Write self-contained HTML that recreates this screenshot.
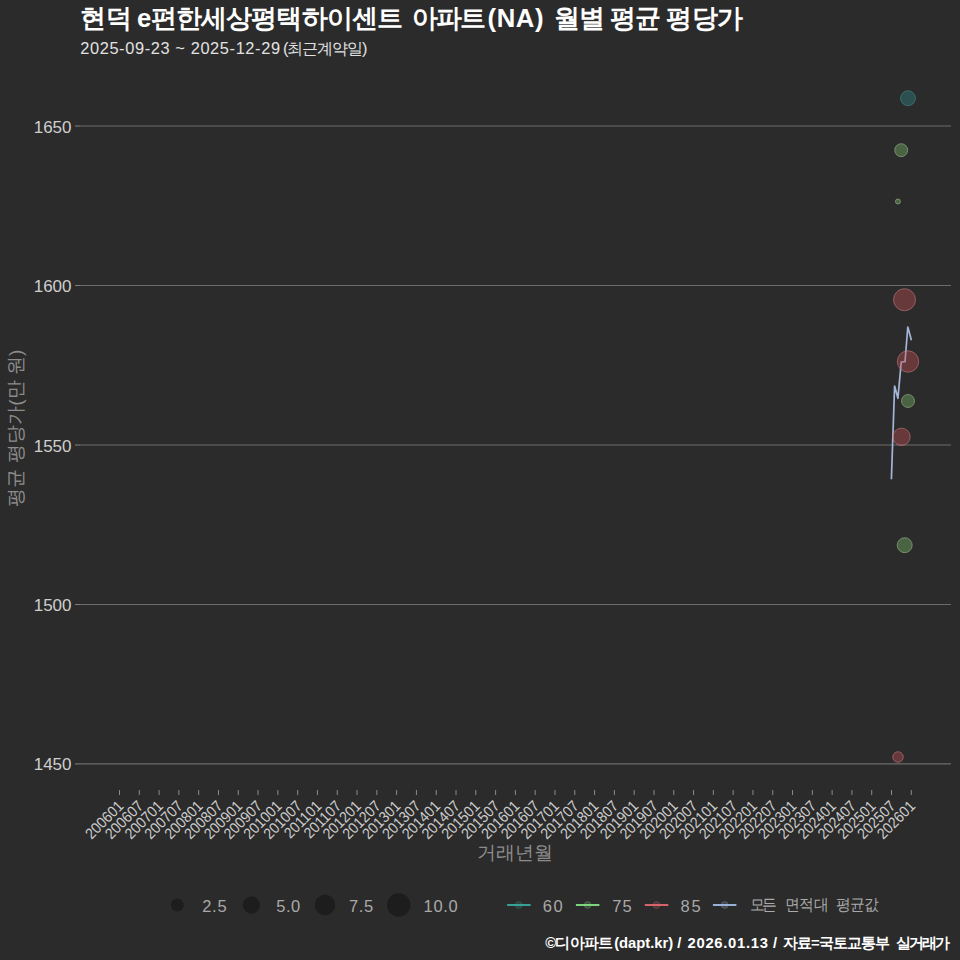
<!DOCTYPE html>
<html><head><meta charset="utf-8"><style>
html,body{margin:0;padding:0;background:#2b2b2b;width:960px;height:960px;overflow:hidden}
svg{display:block}
text{font-family:"Liberation Sans",sans-serif}
.yl{font-size:17px;fill:#cfcfcf}
.xl{font-size:14px;fill:#cccccc}
.at{font-size:19.5px;fill:#8c8c8c}
.lg{font-size:16.5px;fill:#a9a9a9}
.ti{font-size:25.7px;font-weight:bold;fill:#ffffff}
.st{font-size:16.4px;fill:#e2e2e2}
.cap{font-size:14.8px;font-weight:bold;fill:#ffffff}
</style></head><body>
<svg width="960" height="960" viewBox="0 0 960 960">
<rect x="0" y="0" width="960" height="960" fill="#2b2b2b"/>
<line x1="80" x2="951" y1="126" y2="126" stroke="#6c6c6c" stroke-width="1.1"/>
<line x1="75" x2="80" y1="126" y2="126" stroke="#7a7a7a" stroke-width="1.1"/>
<text x="71.5" y="132.5" text-anchor="end" class="yl">1650</text>
<line x1="80" x2="951" y1="285.5" y2="285.5" stroke="#6c6c6c" stroke-width="1.1"/>
<line x1="75" x2="80" y1="285.5" y2="285.5" stroke="#7a7a7a" stroke-width="1.1"/>
<text x="71.5" y="292.0" text-anchor="end" class="yl">1600</text>
<line x1="80" x2="951" y1="445" y2="445" stroke="#6c6c6c" stroke-width="1.1"/>
<line x1="75" x2="80" y1="445" y2="445" stroke="#7a7a7a" stroke-width="1.1"/>
<text x="71.5" y="451.5" text-anchor="end" class="yl">1550</text>
<line x1="80" x2="951" y1="604.5" y2="604.5" stroke="#6c6c6c" stroke-width="1.1"/>
<line x1="75" x2="80" y1="604.5" y2="604.5" stroke="#7a7a7a" stroke-width="1.1"/>
<text x="71.5" y="611.0" text-anchor="end" class="yl">1500</text>
<line x1="80" x2="951" y1="763.9" y2="763.9" stroke="#6c6c6c" stroke-width="1.1"/>
<line x1="75" x2="80" y1="763.9" y2="763.9" stroke="#7a7a7a" stroke-width="1.1"/>
<text x="71.5" y="770.4" text-anchor="end" class="yl">1450</text>
<line x1="119.50" x2="119.50" y1="790" y2="795" stroke="#8a8a8a" stroke-width="1"/>
<text class="xl" text-anchor="end" transform="translate(124.50,807) rotate(-45) scale(1,1.1)">200601</text>
<line x1="139.30" x2="139.30" y1="790" y2="795" stroke="#8a8a8a" stroke-width="1"/>
<text class="xl" text-anchor="end" transform="translate(144.30,807) rotate(-45) scale(1,1.1)">200607</text>
<line x1="159.09" x2="159.09" y1="790" y2="795" stroke="#8a8a8a" stroke-width="1"/>
<text class="xl" text-anchor="end" transform="translate(164.09,807) rotate(-45) scale(1,1.1)">200701</text>
<line x1="178.88" x2="178.88" y1="790" y2="795" stroke="#8a8a8a" stroke-width="1"/>
<text class="xl" text-anchor="end" transform="translate(183.88,807) rotate(-45) scale(1,1.1)">200707</text>
<line x1="198.68" x2="198.68" y1="790" y2="795" stroke="#8a8a8a" stroke-width="1"/>
<text class="xl" text-anchor="end" transform="translate(203.68,807) rotate(-45) scale(1,1.1)">200801</text>
<line x1="218.48" x2="218.48" y1="790" y2="795" stroke="#8a8a8a" stroke-width="1"/>
<text class="xl" text-anchor="end" transform="translate(223.48,807) rotate(-45) scale(1,1.1)">200807</text>
<line x1="238.27" x2="238.27" y1="790" y2="795" stroke="#8a8a8a" stroke-width="1"/>
<text class="xl" text-anchor="end" transform="translate(243.27,807) rotate(-45) scale(1,1.1)">200901</text>
<line x1="258.06" x2="258.06" y1="790" y2="795" stroke="#8a8a8a" stroke-width="1"/>
<text class="xl" text-anchor="end" transform="translate(263.06,807) rotate(-45) scale(1,1.1)">200907</text>
<line x1="277.86" x2="277.86" y1="790" y2="795" stroke="#8a8a8a" stroke-width="1"/>
<text class="xl" text-anchor="end" transform="translate(282.86,807) rotate(-45) scale(1,1.1)">201001</text>
<line x1="297.66" x2="297.66" y1="790" y2="795" stroke="#8a8a8a" stroke-width="1"/>
<text class="xl" text-anchor="end" transform="translate(302.66,807) rotate(-45) scale(1,1.1)">201007</text>
<line x1="317.45" x2="317.45" y1="790" y2="795" stroke="#8a8a8a" stroke-width="1"/>
<text class="xl" text-anchor="end" transform="translate(322.45,807) rotate(-45) scale(1,1.1)">201101</text>
<line x1="337.25" x2="337.25" y1="790" y2="795" stroke="#8a8a8a" stroke-width="1"/>
<text class="xl" text-anchor="end" transform="translate(342.25,807) rotate(-45) scale(1,1.1)">201107</text>
<line x1="357.04" x2="357.04" y1="790" y2="795" stroke="#8a8a8a" stroke-width="1"/>
<text class="xl" text-anchor="end" transform="translate(362.04,807) rotate(-45) scale(1,1.1)">201201</text>
<line x1="376.84" x2="376.84" y1="790" y2="795" stroke="#8a8a8a" stroke-width="1"/>
<text class="xl" text-anchor="end" transform="translate(381.84,807) rotate(-45) scale(1,1.1)">201207</text>
<line x1="396.63" x2="396.63" y1="790" y2="795" stroke="#8a8a8a" stroke-width="1"/>
<text class="xl" text-anchor="end" transform="translate(401.63,807) rotate(-45) scale(1,1.1)">201301</text>
<line x1="416.43" x2="416.43" y1="790" y2="795" stroke="#8a8a8a" stroke-width="1"/>
<text class="xl" text-anchor="end" transform="translate(421.43,807) rotate(-45) scale(1,1.1)">201307</text>
<line x1="436.22" x2="436.22" y1="790" y2="795" stroke="#8a8a8a" stroke-width="1"/>
<text class="xl" text-anchor="end" transform="translate(441.22,807) rotate(-45) scale(1,1.1)">201401</text>
<line x1="456.02" x2="456.02" y1="790" y2="795" stroke="#8a8a8a" stroke-width="1"/>
<text class="xl" text-anchor="end" transform="translate(461.02,807) rotate(-45) scale(1,1.1)">201407</text>
<line x1="475.81" x2="475.81" y1="790" y2="795" stroke="#8a8a8a" stroke-width="1"/>
<text class="xl" text-anchor="end" transform="translate(480.81,807) rotate(-45) scale(1,1.1)">201501</text>
<line x1="495.61" x2="495.61" y1="790" y2="795" stroke="#8a8a8a" stroke-width="1"/>
<text class="xl" text-anchor="end" transform="translate(500.61,807) rotate(-45) scale(1,1.1)">201507</text>
<line x1="515.40" x2="515.40" y1="790" y2="795" stroke="#8a8a8a" stroke-width="1"/>
<text class="xl" text-anchor="end" transform="translate(520.40,807) rotate(-45) scale(1,1.1)">201601</text>
<line x1="535.20" x2="535.20" y1="790" y2="795" stroke="#8a8a8a" stroke-width="1"/>
<text class="xl" text-anchor="end" transform="translate(540.20,807) rotate(-45) scale(1,1.1)">201607</text>
<line x1="554.99" x2="554.99" y1="790" y2="795" stroke="#8a8a8a" stroke-width="1"/>
<text class="xl" text-anchor="end" transform="translate(559.99,807) rotate(-45) scale(1,1.1)">201701</text>
<line x1="574.79" x2="574.79" y1="790" y2="795" stroke="#8a8a8a" stroke-width="1"/>
<text class="xl" text-anchor="end" transform="translate(579.79,807) rotate(-45) scale(1,1.1)">201707</text>
<line x1="594.58" x2="594.58" y1="790" y2="795" stroke="#8a8a8a" stroke-width="1"/>
<text class="xl" text-anchor="end" transform="translate(599.58,807) rotate(-45) scale(1,1.1)">201801</text>
<line x1="614.38" x2="614.38" y1="790" y2="795" stroke="#8a8a8a" stroke-width="1"/>
<text class="xl" text-anchor="end" transform="translate(619.38,807) rotate(-45) scale(1,1.1)">201807</text>
<line x1="634.17" x2="634.17" y1="790" y2="795" stroke="#8a8a8a" stroke-width="1"/>
<text class="xl" text-anchor="end" transform="translate(639.17,807) rotate(-45) scale(1,1.1)">201901</text>
<line x1="653.97" x2="653.97" y1="790" y2="795" stroke="#8a8a8a" stroke-width="1"/>
<text class="xl" text-anchor="end" transform="translate(658.97,807) rotate(-45) scale(1,1.1)">201907</text>
<line x1="673.76" x2="673.76" y1="790" y2="795" stroke="#8a8a8a" stroke-width="1"/>
<text class="xl" text-anchor="end" transform="translate(678.76,807) rotate(-45) scale(1,1.1)">202001</text>
<line x1="693.56" x2="693.56" y1="790" y2="795" stroke="#8a8a8a" stroke-width="1"/>
<text class="xl" text-anchor="end" transform="translate(698.56,807) rotate(-45) scale(1,1.1)">202007</text>
<line x1="713.35" x2="713.35" y1="790" y2="795" stroke="#8a8a8a" stroke-width="1"/>
<text class="xl" text-anchor="end" transform="translate(718.35,807) rotate(-45) scale(1,1.1)">202101</text>
<line x1="733.15" x2="733.15" y1="790" y2="795" stroke="#8a8a8a" stroke-width="1"/>
<text class="xl" text-anchor="end" transform="translate(738.15,807) rotate(-45) scale(1,1.1)">202107</text>
<line x1="752.94" x2="752.94" y1="790" y2="795" stroke="#8a8a8a" stroke-width="1"/>
<text class="xl" text-anchor="end" transform="translate(757.94,807) rotate(-45) scale(1,1.1)">202201</text>
<line x1="772.74" x2="772.74" y1="790" y2="795" stroke="#8a8a8a" stroke-width="1"/>
<text class="xl" text-anchor="end" transform="translate(777.74,807) rotate(-45) scale(1,1.1)">202207</text>
<line x1="792.53" x2="792.53" y1="790" y2="795" stroke="#8a8a8a" stroke-width="1"/>
<text class="xl" text-anchor="end" transform="translate(797.53,807) rotate(-45) scale(1,1.1)">202301</text>
<line x1="812.33" x2="812.33" y1="790" y2="795" stroke="#8a8a8a" stroke-width="1"/>
<text class="xl" text-anchor="end" transform="translate(817.33,807) rotate(-45) scale(1,1.1)">202307</text>
<line x1="832.12" x2="832.12" y1="790" y2="795" stroke="#8a8a8a" stroke-width="1"/>
<text class="xl" text-anchor="end" transform="translate(837.12,807) rotate(-45) scale(1,1.1)">202401</text>
<line x1="851.92" x2="851.92" y1="790" y2="795" stroke="#8a8a8a" stroke-width="1"/>
<text class="xl" text-anchor="end" transform="translate(856.92,807) rotate(-45) scale(1,1.1)">202407</text>
<line x1="871.71" x2="871.71" y1="790" y2="795" stroke="#8a8a8a" stroke-width="1"/>
<text class="xl" text-anchor="end" transform="translate(876.71,807) rotate(-45) scale(1,1.1)">202501</text>
<line x1="891.51" x2="891.51" y1="790" y2="795" stroke="#8a8a8a" stroke-width="1"/>
<text class="xl" text-anchor="end" transform="translate(896.51,807) rotate(-45) scale(1,1.1)">202507</text>
<line x1="911.30" x2="911.30" y1="790" y2="795" stroke="#8a8a8a" stroke-width="1"/>
<text class="xl" text-anchor="end" transform="translate(916.30,807) rotate(-45) scale(1,1.1)">202601</text>
<text class="at" y="858.8" style="font-size:19px"><tspan x="477.1" textLength="75.8" lengthAdjust="spacing">거래년월</tspan></text>
<text class="at" transform="translate(22.4,506.6) rotate(-90)" style="font-size:19px"><tspan x="0" textLength="157" lengthAdjust="spacing">평균 평당가(만 원)</tspan></text>
<polyline fill="none" stroke="#a3b5d8" stroke-width="1.7" stroke-linejoin="round" points="891.4,479.2 894.6,386 897.9,398.3 901.25,362 905,361.7 907.8,327 911.4,340.2"/>
<circle cx="908" cy="98.2" r="7.5" fill="#308888" fill-opacity="0.4" stroke="#4a9a90" stroke-opacity="0.55" stroke-width="0.9"/>
<circle cx="901.2" cy="150.2" r="6.5" fill="#7bba69" fill-opacity="0.4" stroke="#b0d0a0" stroke-opacity="0.55" stroke-width="0.9"/>
<circle cx="897.9" cy="201.5" r="2.5" fill="#7bba69" fill-opacity="0.4" stroke="#b0d0a0" stroke-opacity="0.55" stroke-width="0.9"/>
<circle cx="904.5" cy="299.7" r="11.0" fill="#c65055" fill-opacity="0.4" stroke="#d88890" stroke-opacity="0.55" stroke-width="0.9"/>
<circle cx="908" cy="361.5" r="10.7" fill="#c65055" fill-opacity="0.4" stroke="#d88890" stroke-opacity="0.55" stroke-width="0.9"/>
<circle cx="908" cy="401" r="6.5" fill="#7bba69" fill-opacity="0.4" stroke="#b0d0a0" stroke-opacity="0.55" stroke-width="0.9"/>
<circle cx="901.5" cy="436.8" r="8.7" fill="#c65055" fill-opacity="0.4" stroke="#d88890" stroke-opacity="0.55" stroke-width="0.9"/>
<circle cx="904.7" cy="545.2" r="7.5" fill="#7bba69" fill-opacity="0.4" stroke="#b0d0a0" stroke-opacity="0.55" stroke-width="0.9"/>
<circle cx="898" cy="757" r="5.3" fill="#c65055" fill-opacity="0.4" stroke="#d88890" stroke-opacity="0.55" stroke-width="0.9"/>
<circle cx="177.3" cy="905" r="6.4" fill="#1d1d1d"/>
<text class="lg" y="912"><tspan x="202.2" textLength="24.4" lengthAdjust="spacing">2.5</tspan></text>
<circle cx="251.4" cy="905" r="8.6" fill="#1d1d1d"/>
<text class="lg" y="912"><tspan x="276.2" textLength="24" lengthAdjust="spacing">5.0</tspan></text>
<circle cx="325" cy="905" r="10.3" fill="#1d1d1d"/>
<text class="lg" y="912"><tspan x="349" textLength="24.3" lengthAdjust="spacing">7.5</tspan></text>
<circle cx="398.7" cy="905" r="11.7" fill="#1d1d1d"/>
<text class="lg" y="912"><tspan x="423.6" textLength="34" lengthAdjust="spacing">10.0</tspan></text>
<circle cx="518.8000000000001" cy="905" r="3.4" fill="#3aa89a" fill-opacity="0.18" stroke="#3aa89a" stroke-opacity="0.35" stroke-width="0.8"/>
<line x1="507.1" x2="530.6" y1="905" y2="905" stroke="#3aa89a" stroke-width="1.9"/>
<text class="lg" y="912"><tspan x="542.8" textLength="19.8" lengthAdjust="spacing">60</tspan></text>
<circle cx="587.6" cy="905" r="3.4" fill="#82de82" fill-opacity="0.18" stroke="#82de82" stroke-opacity="0.35" stroke-width="0.8"/>
<line x1="575.9" x2="599.4" y1="905" y2="905" stroke="#82de82" stroke-width="1.9"/>
<text class="lg" y="912"><tspan x="612.2" textLength="19.5" lengthAdjust="spacing">75</tspan></text>
<circle cx="656.5" cy="905" r="3.4" fill="#e06870" fill-opacity="0.18" stroke="#e06870" stroke-opacity="0.35" stroke-width="0.8"/>
<line x1="644.8" x2="668.3" y1="905" y2="905" stroke="#e06870" stroke-width="1.9"/>
<text class="lg" y="912"><tspan x="680.6" textLength="20" lengthAdjust="spacing">85</tspan></text>
<circle cx="724.6" cy="905" r="3.4" fill="#a0b8e0" fill-opacity="0.18" stroke="#a0b8e0" stroke-opacity="0.35" stroke-width="0.8"/>
<line x1="712.9" x2="736.4" y1="905" y2="905" stroke="#a0b8e0" stroke-width="1.9"/>
<text class="lg" y="912"></text>
<g transform="translate(0,910.3) scale(1,1.08)"><text class="lg" y="0" style="font-size:14.6px"><tspan x="749.6" textLength="27.2" lengthAdjust="spacing">모든</tspan><tspan x="784.6" textLength="43.8" lengthAdjust="spacing">면적대</tspan><tspan x="835.6" textLength="42.8" lengthAdjust="spacing">평균값</tspan></text></g>
<text class="ti" y="27"><tspan x="80.4" textLength="322.8" lengthAdjust="spacing">현덕 e편한세상평택하이센트</tspan><tspan x="411.9" textLength="74.2" lengthAdjust="spacing">아파트</tspan><tspan x="487.5" textLength="56" lengthAdjust="spacing">(NA)</tspan><tspan x="553.6" textLength="189" lengthAdjust="spacing">월별 평균 평당가</tspan></text>
<text class="st" y="54"><tspan x="80.2" textLength="199.8" lengthAdjust="spacing">2025-09-23 ~ 2025-12-29</tspan><tspan x="283" textLength="84.4" lengthAdjust="spacing">(최근계약일)</tspan></text>
<text class="cap" y="947.6"><tspan x="545.2" textLength="68.1" lengthAdjust="spacing">©디아파트</tspan><tspan x="614.2" textLength="59" lengthAdjust="spacing">(dapt.kr)</tspan><tspan x="677.2">/</tspan><tspan x="687.5" textLength="80.5" lengthAdjust="spacing">2026.01.13</tspan><tspan x="773">/</tspan><tspan x="782.8" textLength="107.2" lengthAdjust="spacing">자료=국토교통부</tspan><tspan x="896.2" textLength="53.8" lengthAdjust="spacing">실거래가</tspan></text>
</svg></body></html>
